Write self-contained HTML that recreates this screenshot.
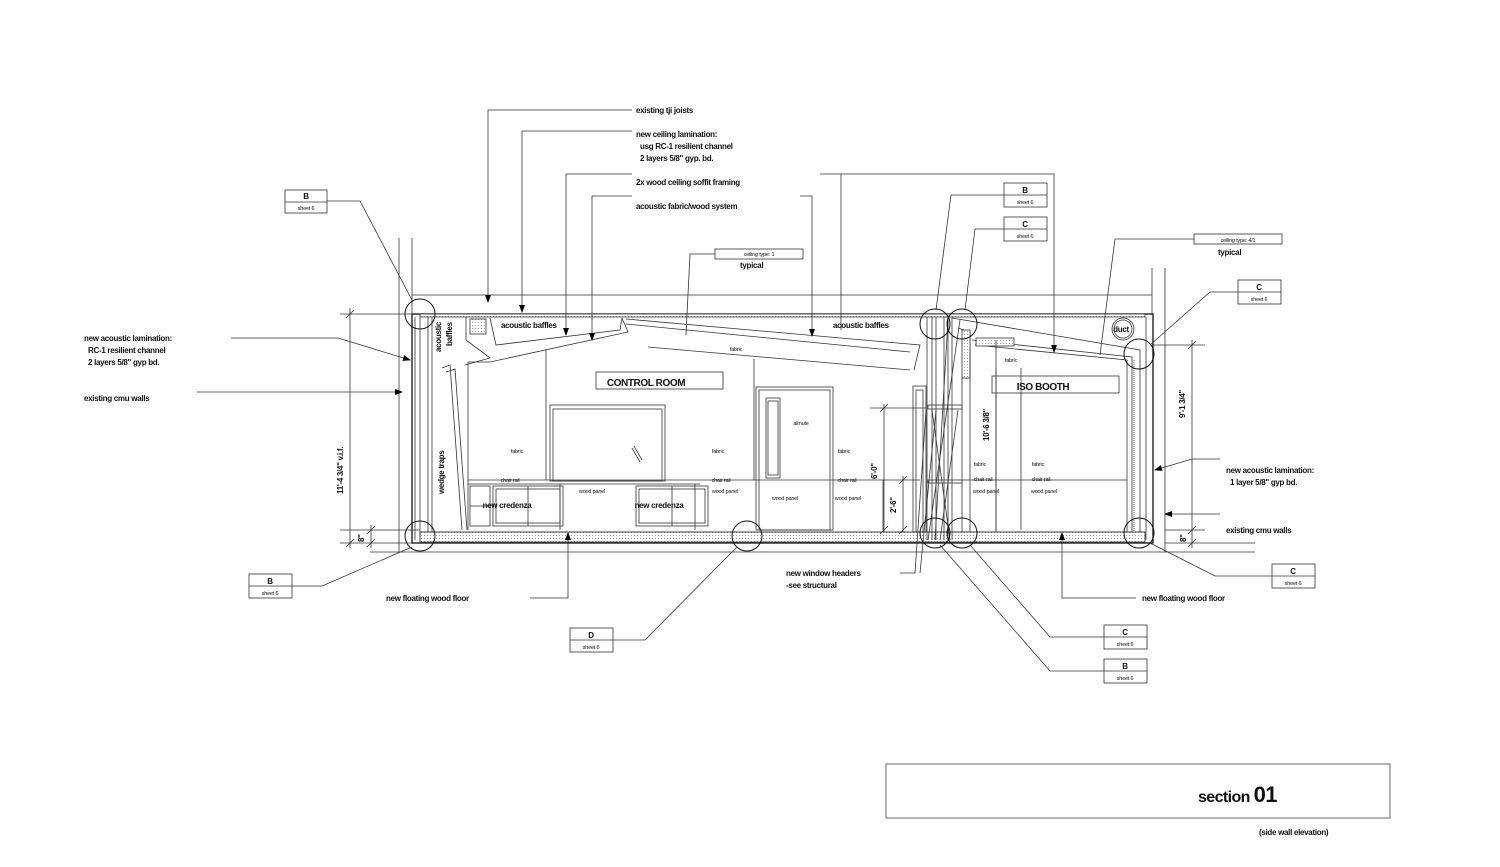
<!DOCTYPE html>
<html><head><meta charset="utf-8"><style>
html,body{margin:0;padding:0;background:#fff;}
svg{display:block;}
text{font-family:"Liberation Sans",sans-serif;font-weight:bold;fill:#111;}
.t{font-size:8px;letter-spacing:-0.3px;}
.s{font-size:5.5px;font-weight:normal;letter-spacing:-0.2px;}
.b{font-size:10px;letter-spacing:-0.4px;}
</style></head><body>
<svg width="1500" height="867" viewBox="0 0 1500 867" xmlns="http://www.w3.org/2000/svg">
<defs>
<pattern id="dots" width="3" height="3" patternUnits="userSpaceOnUse"><rect width="3" height="3" fill="#fff"/><circle cx="1.5" cy="1.5" r="0.5" fill="#888"/></pattern>
<marker id="ar" markerWidth="8" markerHeight="8" refX="7" refY="4" orient="auto" markerUnits="userSpaceOnUse"><path d="M0,1 L8,4 L0,7 Z" fill="#000"/></marker>
</defs>
<g fill="none" stroke="#333" stroke-width="0.8">
<line x1="399" y1="238" x2="399" y2="552"/>
<line x1="412" y1="238" x2="412" y2="314"/>
<line x1="412" y1="295" x2="1152" y2="295"/>
<line x1="1152" y1="268" x2="1152" y2="314"/>
<line x1="1165" y1="268" x2="1165" y2="552"/>
<line x1="340" y1="314" x2="412" y2="314"/>
<line x1="340" y1="530" x2="420" y2="530"/>
<line x1="340" y1="543" x2="412" y2="543"/>
<line x1="370" y1="552" x2="1255" y2="552"/>
<line x1="1152" y1="345" x2="1205" y2="345"/>
<line x1="1165" y1="530" x2="1205" y2="530"/>
<line x1="1165" y1="543" x2="1255" y2="543"/>
<rect x="412" y="314" width="741" height="229" stroke="#222" stroke-width="1.4"/>
<rect x="420" y="314" width="725" height="3" fill="url(#dots)"/>
<rect x="420" y="532" width="725" height="10" fill="url(#dots)"/>
<line x1="420" y1="532" x2="1145" y2="532"/>
<line x1="415" y1="317" x2="415" y2="540"/>
<line x1="420" y1="317" x2="420" y2="540"/>
<line x1="428" y1="317" x2="428" y2="532"/>
<line x1="432" y1="317" x2="432" y2="532"/>
<polyline points="466,317 466,340 490,358 465,365"/>
<polyline points="446,372 455,369 467,530"/>
<polyline points="442,368 450,365 462,530"/>
<rect x="470" y="319" width="16" height="15" fill="url(#dots)"/>
<polyline points="490,318 496,345 620,330 622,318"/>
<polyline points="622,318 628,332 490,362 468,362 468,530"/>
<polyline points="626,319 920,345 914,370"/>
<polyline points="626,324 910,352"/>
<polyline points="648,347 910,370"/>
<line x1="546" y1="350" x2="546" y2="480"/>
<line x1="754" y1="359" x2="754" y2="480"/>
<rect x="596" y="372" width="127" height="17"/>
<rect x="550" y="405" width="115" height="76"/>
<rect x="553" y="409" width="109" height="72"/>
<line x1="632" y1="448" x2="640" y2="462"/>
<line x1="634" y1="446" x2="642" y2="460"/>
<rect x="756" y="387" width="77" height="143"/>
<rect x="759" y="390" width="71" height="140"/>
<rect x="766" y="398" width="14" height="80"/>
<rect x="768" y="401" width="10" height="74"/>
<line x1="468" y1="480" x2="920" y2="480"/>
<line x1="468" y1="484" x2="700" y2="484"/>
<rect x="470" y="486" width="20" height="40"/><line x1="470" y1="506" x2="490" y2="506"/>
<rect x="493" y="486" width="70" height="40"/><line x1="528" y1="486" x2="528" y2="526"/>
<rect x="496" y="489" width="64" height="34"/>
<rect x="636" y="486" width="72" height="40"/><line x1="672" y1="486" x2="672" y2="526"/>
<rect x="639" y="489" width="66" height="34"/>
<line x1="560" y1="484" x2="560" y2="530"/>
<line x1="695" y1="484" x2="695" y2="530"/>
<line x1="883" y1="480" x2="883" y2="530"/>
<rect x="913" y="386" width="13" height="146"/>
<rect x="916" y="390" width="7" height="142"/>
<line x1="927" y1="317" x2="927" y2="540"/>
<line x1="932" y1="317" x2="932" y2="540"/>
<line x1="936" y1="317" x2="936" y2="540"/>
<line x1="944" y1="317" x2="944" y2="540"/>
<line x1="948" y1="317" x2="948" y2="540"/>
<line x1="952" y1="317" x2="952" y2="540"/>
<rect x="928" y="405" width="34" height="4"/>
<rect x="928" y="480" width="34" height="3"/>
<line x1="928" y1="540" x2="960" y2="320"/>
<line x1="935" y1="540" x2="948" y2="320"/>
<line x1="950" y1="540" x2="932" y2="410"/>
<line x1="940" y1="540" x2="958" y2="410"/>
<polyline points="952,318 1140,350 1140,532"/>
<polyline points="958,328 970,332 970,378 962,378 962,532"/>
<rect x="962" y="330" width="8" height="48" fill="url(#dots)"/>
<polyline points="972,340 1132,357 1132,532"/>
<polyline points="975,345 1127,360 1127,532"/>
<line x1="970" y1="348" x2="970" y2="532"/>
<rect x="976" y="338" width="38" height="8" fill="url(#dots)"/>
<line x1="1134" y1="360" x2="1134" y2="532" stroke-dasharray="1,1"/>
<line x1="1146" y1="317" x2="1146" y2="540"/>
<rect x="992" y="376" width="127" height="17"/>
<line x1="996" y1="368" x2="996" y2="530"/>
<line x1="1021" y1="368" x2="1021" y2="530"/>
<line x1="962" y1="480" x2="1127" y2="480"/>
<circle cx="1123" cy="329" r="11"/><circle cx="1123" cy="329" r="9"/>
<g stroke="#111" stroke-width="1">
<circle cx="420" cy="314" r="15"/><circle cx="420" cy="536" r="15"/>
<circle cx="747" cy="536" r="15"/><circle cx="935" cy="324" r="15"/>
<circle cx="962" cy="324" r="15"/><circle cx="1139" cy="354" r="15"/>
<circle cx="935" cy="533" r="15"/><circle cx="962" cy="533" r="15"/>
<circle cx="1139" cy="533" r="15"/>
</g>
<rect x="285" y="190" width="42" height="23"/><line x1="285" y1="202" x2="327" y2="202"/>
<rect x="1004" y="183" width="43" height="24"/><line x1="1004" y1="195" x2="1047" y2="195"/>
<rect x="1004" y="217" width="43" height="24"/><line x1="1004" y1="229" x2="1047" y2="229"/>
<rect x="1238" y="280" width="43" height="24"/><line x1="1238" y1="292" x2="1281" y2="292"/>
<rect x="249" y="574" width="43" height="24"/><line x1="249" y1="586" x2="292" y2="586"/>
<rect x="570" y="628" width="43" height="24"/><line x1="570" y1="640" x2="613" y2="640"/>
<rect x="1104" y="625" width="43" height="24"/><line x1="1104" y1="637" x2="1147" y2="637"/>
<rect x="1104" y="659" width="43" height="24"/><line x1="1104" y1="671" x2="1147" y2="671"/>
<rect x="1272" y="564" width="43" height="24"/><line x1="1272" y1="576" x2="1315" y2="576"/>
<rect x="715" y="249" width="88" height="10"/>
<rect x="1194" y="234" width="88" height="10"/>
<polyline points="327,201 360,201 413,302"/>
<polyline points="1004,195 951,195 936,310"/>
<polyline points="1004,229 975,229 965,310"/>
<polyline points="1238,292 1210,292 1150,345"/>
<polyline points="292,586 322,586 412,547"/>
<polyline points="613,640 645,640 737,547"/>
<polyline points="1104,637 1050,637 970,545"/>
<polyline points="1104,671 1050,671 940,545"/>
<polyline points="1272,576 1215,576 1150,543"/>
<polyline points="715,254 690,254 686,335"/>
<polyline points="1194,239 1115,239 1100,355"/>
<polyline points="632,110 488,110 488,302" marker-end="url(#ar)"/>
<polyline points="632,131 522,131 522,312" marker-end="url(#ar)"/>
<polyline points="632,174 566,174 566,335" marker-end="url(#ar)"/>
<polyline points="632,196 592,196 592,340" marker-end="url(#ar)"/>
<polyline points="800,196 812,196 812,336" marker-end="url(#ar)"/>
<polyline points="820,174 1054,174 1054,352" marker-end="url(#ar)"/>
<line x1="841" y1="174" x2="841" y2="330"/>
<polyline points="231,338 338,338 410,360" marker-end="url(#ar)"/>
<line x1="197" y1="392" x2="402" y2="392" marker-end="url(#ar)"/>
<polyline points="1220,459 1192,459 1155,470" marker-end="url(#ar)"/>
<line x1="1220" y1="514" x2="1165" y2="514" marker-end="url(#ar)"/>
<polyline points="530,598 568,598 568,533" marker-end="url(#ar)"/>
<polyline points="1136,598 1062,598 1062,533" marker-end="url(#ar)"/>
<polyline points="900,573 915,573 926,410"/>
<line x1="920" y1="573" x2="936" y2="410"/>
<line x1="350" y1="308" x2="350" y2="548"/>
<line x1="346" y1="318" x2="354" y2="310"/><line x1="346" y1="547" x2="354" y2="539"/>
<line x1="371" y1="525" x2="371" y2="548"/>
<line x1="367" y1="534" x2="375" y2="526"/><line x1="367" y1="547" x2="375" y2="539"/>
<line x1="1192" y1="340" x2="1192" y2="548"/>
<line x1="1188" y1="349" x2="1196" y2="341"/><line x1="1188" y1="534" x2="1196" y2="526"/>
<line x1="1188" y1="547" x2="1196" y2="539"/>
<line x1="870" y1="408" x2="926" y2="408"/>
<line x1="884" y1="404" x2="884" y2="532"/>
<line x1="880" y1="412" x2="888" y2="404"/><line x1="880" y1="534" x2="888" y2="526"/>
<line x1="903" y1="476" x2="903" y2="532"/>
<line x1="899" y1="484" x2="907" y2="476"/><line x1="899" y1="534" x2="907" y2="526"/>
<line x1="996" y1="340" x2="996" y2="532"/>
<rect x="886" y="764" width="504" height="54" stroke="#444"/>
</g>
<text class="t" x="636" y="113">existing tji joists</text>
<text class="t" x="636" y="137">new ceiling lamination:</text>
<text class="t" x="640" y="149">usg RC-1 resilient channel</text>
<text class="t" x="640" y="161">2 layers 5/8" gyp. bd.</text>
<text class="t" x="636" y="185">2x wood ceiling soffit framing</text>
<text class="t" x="636" y="209">acoustic fabric/wood system</text>
<text class="s" x="759" y="256" text-anchor="middle">ceiling type: 1</text>
<text class="t" x="740" y="268">typical</text>
<text class="s" x="1238" y="242" text-anchor="middle">ceiling type: 4/1</text>
<text class="t" x="1218" y="255">typical</text>
<text class="t" x="306" y="199" text-anchor="middle">B</text><text class="s" x="306" y="210" text-anchor="middle">sheet 6</text>
<text class="t" x="1025" y="193" text-anchor="middle">B</text><text class="s" x="1025" y="204" text-anchor="middle">sheet 6</text>
<text class="t" x="1025" y="227" text-anchor="middle">C</text><text class="s" x="1025" y="238" text-anchor="middle">sheet 6</text>
<text class="t" x="1259" y="290" text-anchor="middle">C</text><text class="s" x="1259" y="301" text-anchor="middle">sheet 6</text>
<text class="t" x="270" y="584" text-anchor="middle">B</text><text class="s" x="270" y="595" text-anchor="middle">sheet 6</text>
<text class="t" x="591" y="638" text-anchor="middle">D</text><text class="s" x="591" y="649" text-anchor="middle">sheet 6</text>
<text class="t" x="1125" y="635" text-anchor="middle">C</text><text class="s" x="1125" y="646" text-anchor="middle">sheet 6</text>
<text class="t" x="1125" y="669" text-anchor="middle">B</text><text class="s" x="1125" y="680" text-anchor="middle">sheet 6</text>
<text class="t" x="1293" y="574" text-anchor="middle">C</text><text class="s" x="1293" y="585" text-anchor="middle">sheet 6</text>
<text class="t" x="84" y="341">new acoustic lamination:</text>
<text class="t" x="88" y="353">RC-1 resilient channel</text>
<text class="t" x="88" y="365">2 layers 5/8" gyp bd.</text>
<text class="t" x="84" y="401">existing cmu walls</text>
<text class="t" x="1226" y="473">new acoustic lamination:</text>
<text class="t" x="1230" y="485">1 layer 5/8" gyp bd.</text>
<text class="t" x="1226" y="533">existing cmu walls</text>
<text class="t" x="386" y="601">new floating wood floor</text>
<text class="t" x="1142" y="601">new floating wood floor</text>
<text class="t" x="786" y="576">new window headers</text>
<text class="t" x="786" y="588">-see structural</text>
<text class="t" x="501" y="328">acoustic baffles</text>
<text class="t" x="833" y="328">acoustic baffles</text>
<text class="t" transform="translate(441,352) rotate(-90)">acoustic</text>
<text class="t" transform="translate(452,346) rotate(-90)">baffles</text>
<text class="t" transform="translate(444,494) rotate(-90)">wedge traps</text>
<text class="b" x="646" y="386" text-anchor="middle">CONTROL ROOM</text>
<text class="b" x="1043" y="390" text-anchor="middle">ISO BOOTH</text>
<text class="t" x="1121" y="332" text-anchor="middle">duct</text>
<text class="s" x="736" y="351" text-anchor="middle">fabric</text>
<text class="s" x="1011" y="362" text-anchor="middle">fabric</text>
<text class="s" x="517" y="453" text-anchor="middle">fabric</text>
<text class="s" x="718" y="453" text-anchor="middle">fabric</text>
<text class="s" x="844" y="453" text-anchor="middle">fabric</text>
<text class="s" x="801" y="425" text-anchor="middle">almute</text>
<text class="s" x="980" y="466" text-anchor="middle">fabric</text>
<text class="s" x="1038" y="466" text-anchor="middle">fabric</text>
<text class="s" x="510" y="482" text-anchor="middle">chair rail</text>
<text class="s" x="721" y="482" text-anchor="middle">chair rail</text>
<text class="s" x="847" y="482" text-anchor="middle">chair rail</text>
<text class="s" x="983" y="481" text-anchor="middle">chair rail</text>
<text class="s" x="1041" y="481" text-anchor="middle">chair rail</text>
<text class="s" x="592" y="493" text-anchor="middle">wood panel</text>
<text class="s" x="725" y="493" text-anchor="middle">wood panel</text>
<text class="s" x="785" y="500" text-anchor="middle">wood panel</text>
<text class="s" x="848" y="500" text-anchor="middle">wood panel</text>
<text class="s" x="986" y="493" text-anchor="middle">wood panel</text>
<text class="s" x="1044" y="493" text-anchor="middle">wood panel</text>
<text class="t" x="507" y="508" text-anchor="middle">new credenza</text>
<text class="t" x="659" y="508" text-anchor="middle">new credenza</text>
<text class="t" transform="translate(343,494) rotate(-90)">11'-4 3/4" v.i.f.</text>
<text class="t" transform="translate(364,542) rotate(-90)">8"</text>
<text class="t" transform="translate(1185,418) rotate(-90)">9'-1 3/4"</text>
<text class="t" transform="translate(1186,542) rotate(-90)">8"</text>
<text class="t" transform="translate(877,479) rotate(-90)">6'-0"</text>
<text class="t" transform="translate(896,513) rotate(-90)">2'-6"</text>
<text class="t" transform="translate(989,441) rotate(-90)">10'-6 3/8"</text>
<text x="1198" y="802" style="font-size:16px;letter-spacing:-0.6px">section <tspan style="font-size:22px">01</tspan></text>
<text class="t" x="1259" y="835">(side wall elevation)</text>
</svg>
</body></html>
